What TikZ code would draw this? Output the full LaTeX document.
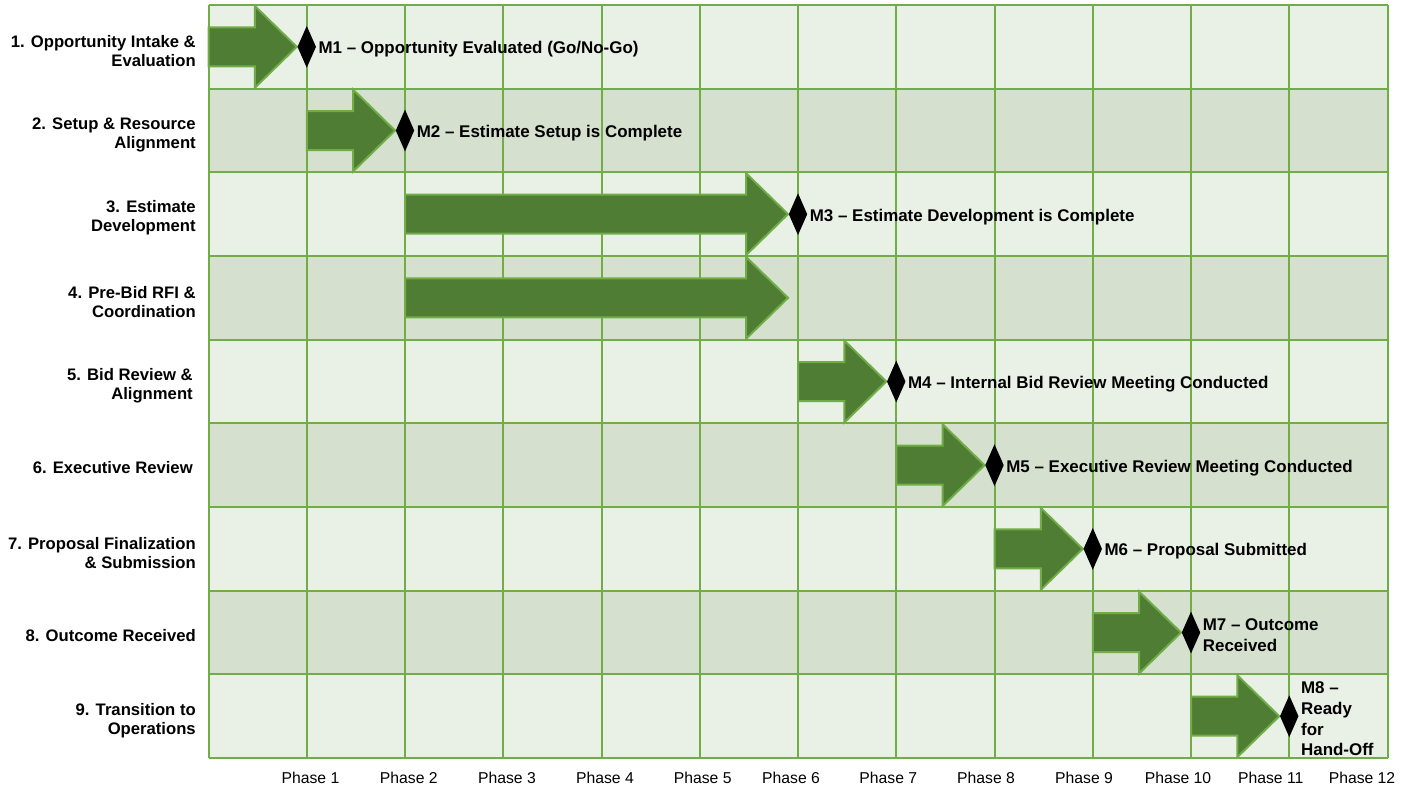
\documentclass[tikz,border=0pt]{standalone}
\usepackage{fontspec}
\setmainfont{Liberation Sans}
\usetikzlibrary{shapes.geometric,positioning}

\definecolor{gridgreen}{RGB}{112,173,71}
\definecolor{barfill}{RGB}{80,125,52}
\definecolor{rowlight}{RGB}{233,240,230}
\definecolor{rowdark}{RGB}{213,224,206}

\tikzset{
	gridline/.style={draw=gridgreen, line width=1.5pt},
	taskbar/.style={draw=gridgreen, fill=barfill, line width=1.5pt, line join=miter},
	milestone/.style={diamond, fill=black, inner sep=0pt, minimum width=14pt, minimum height=31.5pt},
	rowlabel/.style={anchor=east, align=right, inner sep=0pt, font=\bfseries\fontsize{12.5}{14.25}\selectfont},
	mslabel/.style={align=left, inner sep=0pt, yshift=-2pt, font=\bfseries\fontsize{12.7}{15.5}\selectfont},
	phaselabel/.style={inner sep=0pt, font=\fontsize{11.8}{14}\selectfont}
}

\begin{document}
\begin{tikzpicture}[x=0.75pt, y=-0.75pt]
	\useasboundingbox (0,0) rectangle (1413,786);

	\foreach \r/\c in {1/rowlight,2/rowdark,3/rowlight,4/rowdark,5/rowlight,6/rowdark,7/rowlight,8/rowdark,9/rowlight}
		\fill[\c] (208.5,{5+(\r-1)*83.67}) rectangle (1387.5,{5+\r*83.67});
	\foreach \i in {0,...,12}
		\draw[gridline] ({208.5+\i*98.25},5) -- ({208.5+\i*98.25},758);
	\foreach \j in {0,...,9}
		\draw[gridline] (208.5,{5+\j*83.67}) -- (1387.5,{5+\j*83.67});

	\foreach \r/\a/\b in {1/0/1,2/1/2,3/2/6,4/2/6,5/6/7,6/7/8,7/8/9,8/9/10,9/10/11} {
		\pgfmathsetmacro\xs{208.5+\a*98.25}
		\pgfmathsetmacro\xt{208.5+\b*98.25-10}
		\pgfmathsetmacro\xh{\xt-42}
		\pgfmathsetmacro\yc{5+(\r-0.5)*83.67}
		\draw[taskbar] (\xs,{\yc-19.5}) -- (\xh,{\yc-19.5}) -- (\xh,{\yc-41}) -- (\xt,\yc)
			-- (\xh,{\yc+41}) -- (\xh,{\yc+19.5}) -- (\xs,{\yc+19.5}) -- cycle;
	}

	\foreach \r/\b/\n in {1/1/1,2/2/2,3/6/3,5/7/4,6/8/5,7/9/6,8/10/7,9/11/8}
		\node[milestone] (m\n) at ({208.5+\b*98.25},{5+(\r-0.5)*83.67}) {};

	\node[mslabel, right=1.5pt of m1] (l1) {M1 – Opportunity Evaluated (Go/No-Go)};
	\node[mslabel, right=1.5pt of m2] (l2) {M2 – Estimate Setup is Complete};
	\node[mslabel, right=1.5pt of m3] (l3) {M3 – Estimate Development is Complete};
	\node[mslabel, right=1.5pt of m4] (l4) {M4 – Internal Bid Review Meeting Conducted};
	\node[mslabel, right=1.5pt of m5] (l5) {M5 – Executive Review Meeting Conducted};
	\node[mslabel, right=1.5pt of m6] (l6) {M6 – Proposal Submitted};
	\node[mslabel, right=1.5pt of m7] (l7) {M7 – Outcome\\Received};
	\node[mslabel, right=1.5pt of m8] (l8) {M8 –\\Ready\\for\\Hand-Off};

	\node[rowlabel] (t1) at (196,{5+0.5*83.67+4}) {1. Opportunity Intake \&\\Evaluation};
	\node[rowlabel] (t2) at (196,{5+1.5*83.67+4}) {2. Setup \& Resource\\Alignment};
	\node[rowlabel] (t3) at (196,{5+2.5*83.67+4}) {3. Estimate\\Development};
	\node[rowlabel] (t4) at (196,{5+3.5*83.67+4}) {4. Pre-Bid RFI \&\\Coordination};
	\node[rowlabel] (t5) at (193,{5+4.5*83.67+4}) {5. Bid Review \&\\Alignment};
	\node[rowlabel] (t6) at (193,{5+5.5*83.67+2}) {6. Executive Review};
	\node[rowlabel] (t7) at (196,{5+6.5*83.67+4}) {7. Proposal Finalization\\\& Submission};
	\node[rowlabel] (t8) at (196,{5+7.5*83.67+3}) {8. Outcome Received};
	\node[rowlabel] (t9) at (196,{5+8.5*83.67+4}) {9. Transition to\\Operations};

	\foreach \n/\x in {1/310.5,2/408.8,3/507,4/605,5/702.7,6/791,7/888.3,8/986,9/1084,10/1178,11/1270.7,12/1362}
		\node[phaselabel] (p\n) at (\x,777.5) {Phase \n};
\end{tikzpicture}
\end{document}
